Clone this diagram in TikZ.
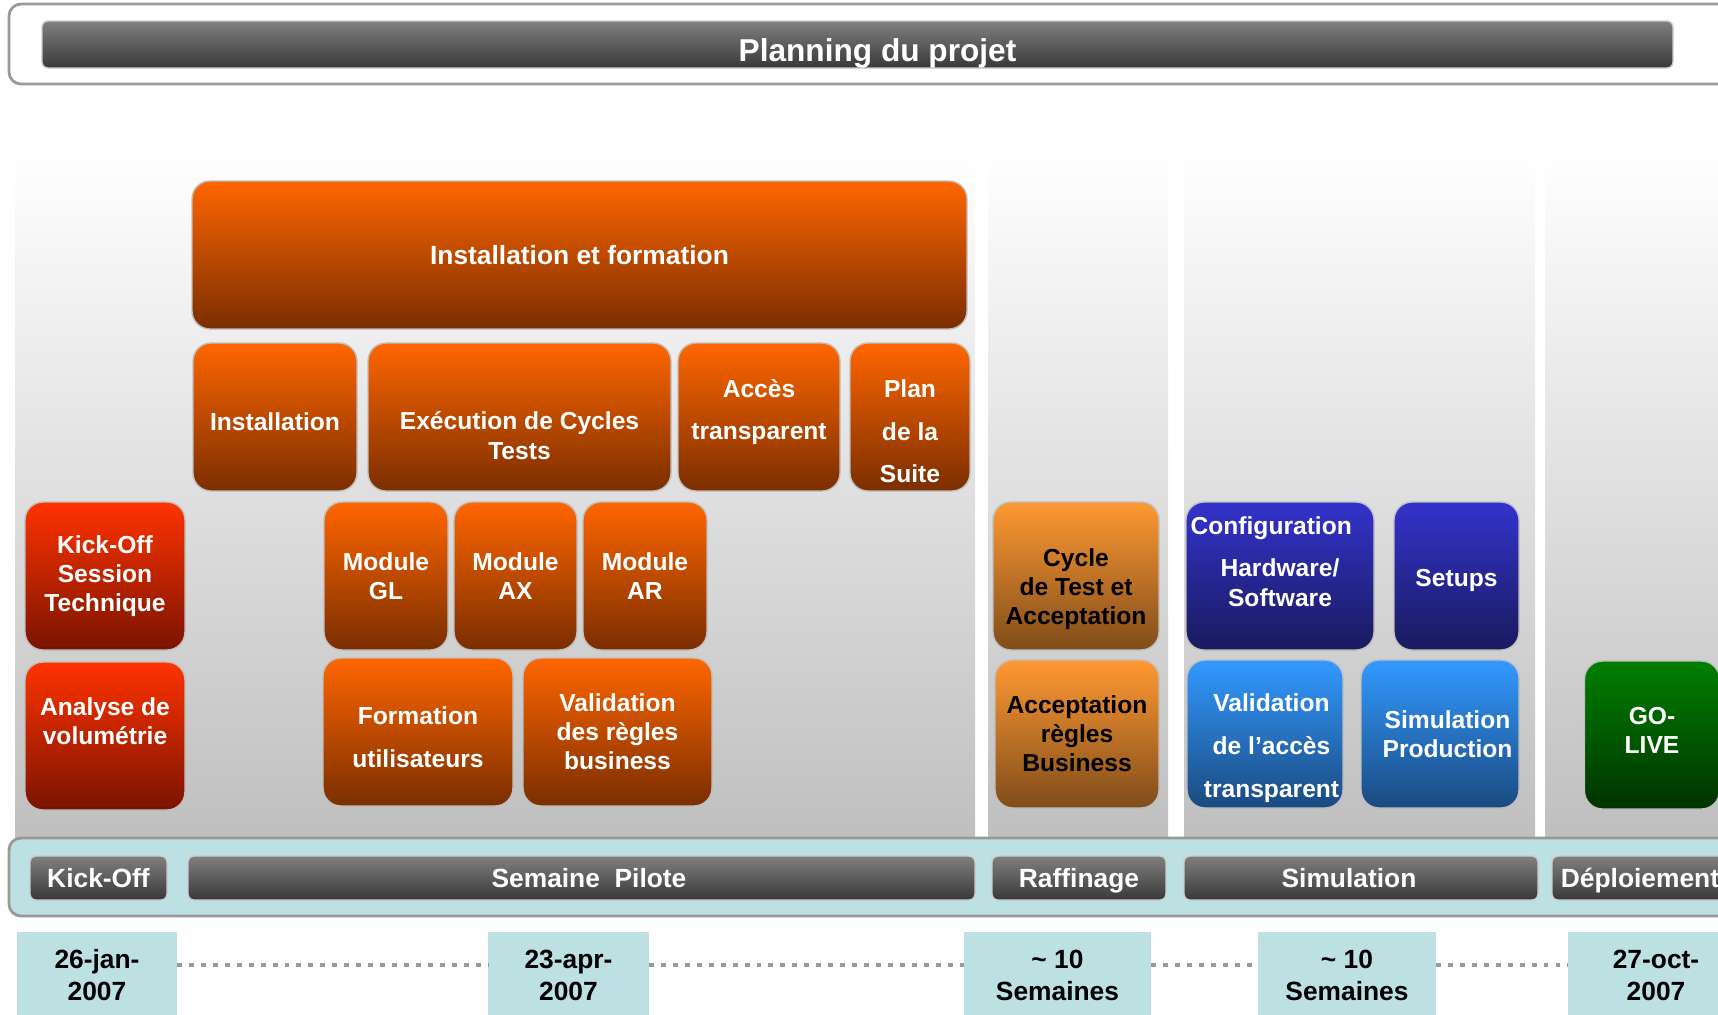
\documentclass[tikz,border=0pt]{standalone}
\usepackage{fontspec}
\setmainfont{Liberation Sans}
\definecolor{orgtop}{HTML}{FF6600}
\definecolor{orgbot}{HTML}{7A2E00}
\definecolor{redtop}{HTML}{FF3300}
\definecolor{redbot}{HTML}{7A1400}
\definecolor{ltotop}{HTML}{FF9933}
\definecolor{ltobot}{HTML}{7F4C1A}
\definecolor{blutop}{HTML}{3333CC}
\definecolor{blubot}{HTML}{1A1A5E}
\definecolor{skytop}{HTML}{3399FF}
\definecolor{skybot}{HTML}{1A4A80}
\definecolor{grntop}{HTML}{008000}
\definecolor{grnbot}{HTML}{003300}
\definecolor{bartop}{HTML}{808080}
\definecolor{barbot}{HTML}{383838}
\definecolor{bandcol}{HTML}{BDE0E3}

\begin{document}
\begin{tikzpicture}[x=0.1mm, y=-0.1mm,
    every node/.style={inner sep=0pt, outer sep=0pt, align=center, text=white,
                       font=\bfseries\fontsize{7}{8.3}\selectfont},
    blk/.style={rounded corners=1.8mm, draw=black!25, minimum height=14.8mm},
    orangebox/.style={blk, top color=orgtop, bottom color=orgbot},
    redbox/.style={blk, top color=redtop, bottom color=redbot},
    lightbox/.style={blk, top color=ltotop, bottom color=ltobot, text=black},
    bluebox/.style={blk, top color=blutop, bottom color=blubot},
    skybox/.style={blk, top color=skytop, bottom color=skybot},
    greenbox/.style={blk, top color=grntop, bottom color=grnbot},
    phase/.style={rounded corners=0.6mm, draw=black!20, top color=bartop, bottom color=barbot,
                  minimum height=4.4mm, text height=5.4pt, text depth=0pt,
                  font=\bfseries\fontsize{7.5}{9}\selectfont},
    frame/.style={draw=black!40, line width=0.8pt, rounded corners=1.2mm, minimum width=173.1mm},
    datebox/.style={fill=bandcol, minimum height=8.6mm, text=black,
                    font=\bfseries\fontsize{7.5}{9.1}\selectfont},
    dotline/.style={draw=black!40, line width=1.4pt, dash pattern=on 1.4pt off 2pt}]
    \useasboundingbox (0,0) rectangle (1718,1014);
    \clip (0,0) rectangle (1718,1014);
    % phase columns
    \shade[top color=white, bottom color=black!25] (15,150) rectangle (975,838);
    \shade[top color=white, bottom color=black!25] (988,150) rectangle (1168,838);
    \shade[top color=white, bottom color=black!25] (1184,150) rectangle (1535,838);
    \shade[top color=white, bottom color=black!25] (1545,150) rectangle (1718,838);
    % title
    \node[frame, fill=white, minimum height=8mm] (head) at (874.5,44) {};
    \node[phase, minimum width=163.1mm, minimum height=4.7mm, text height=9.8pt,
          font=\bfseries\fontsize{9}{11}\selectfont] (title) at (857.5,44.5) {\hspace*{4mm}Planning du projet};
    % semaine pilote
    \node[orangebox, minimum width=77.5mm] (instform) at (579.5,255) {\fontsize{7.5}{9}\selectfont Installation et formation};
    \node[orangebox, minimum width=16.4mm] (inst)  at (275,417)   {\rule{0pt}{7.6pt}Installation};
    \node[orangebox, minimum width=30.3mm] (exec)  at (519.5,417) {\rule{0pt}{15.7pt}Exécution de Cycles\\Tests};
    \node[orangebox, minimum width=16.2mm] (acces) at (759,417)   {Accès\\[3.9pt]transparent\rule[-4.3pt]{0pt}{0pt}};
    \node[orangebox, minimum width=12mm]   (plan)  at (910,417)   {\rule{0pt}{13.2pt}Plan\\[3.9pt]de la\\[3.9pt]Suite};
    \node[orangebox, minimum width=12.4mm] (modgl) at (386,576)   {Module\\GL};
    \node[orangebox, minimum width=12.3mm] (modax) at (515.5,576) {Module\\AX};
    \node[orangebox, minimum width=12.4mm] (modar) at (645,576)   {Module\\AR};
    \node[orangebox, minimum width=19mm]   (forma) at (418,732)   {\rule{0pt}{8.2pt}Formation\\[3.9pt]utilisateurs};
    \node[orangebox, minimum width=18.9mm] (valreg) at (617.5,732) {Validation\\des règles\\business};
    % kick-off
    \node[redbox, minimum width=16mm] (kicksess) at (105,576) {Kick-Off\\Session\\Technique};
    \node[redbox, minimum width=16mm] (volume)   at (105,736) {Analyse de\\volumétrie\\[0pt]};
    % raffinage
    \node[lightbox, minimum width=16.6mm] (cycle)  at (1076,576) {\rule{0pt}{12.6pt}Cycle\\de Test et\\Acceptation};
    \node[lightbox, minimum width=16.4mm] (accept) at (1077,734) {Acceptation\\règles\\Business};
    % simulation
    \node[bluebox, minimum width=18.8mm] (config) at (1280,576)
        {Configuration\hspace*{1.75mm}\\[3.7pt]Hardware/\hspace*{1.75mm}\\Software\hspace*{1.75mm}\\[0pt]};
    \node[bluebox, minimum width=12.5mm] (setups) at (1456.5,576) {\rule{0pt}{7.6pt}Setups};
    \node[skybox, minimum width=15.6mm]  (valacc) at (1265,734)
        {\rule{0pt}{13.2pt}\hspace*{1.3mm}Validation\\[3.9pt]\hspace*{1.3mm}de l’accès\\[3.9pt]\hspace*{1.3mm}transparent};
    \node[skybox, minimum width=15.8mm]  (simprod) at (1440,734) {\hspace*{1.5mm}Simulation\\\hspace*{1.5mm}Production};
    % deploiement
    \node[greenbox, minimum width=13.5mm] (golive) at (1652,735) {GO-\\LIVE\rule[-2.8pt]{0pt}{0pt}};
    % phases
    \node[frame, fill=bandcol, minimum height=7.8mm] (band) at (874.5,877) {};
    \node[phase, minimum width=13.7mm] (pkick) at (98.5,878)  {Kick-Off};
    \node[phase, minimum width=78.7mm] (ppilo) at (581.5,878) {\hspace*{1.5mm}Semaine\ \ Pilote};
    \node[phase, minimum width=17.4mm] (praff) at (1079,878)  {Raffinage};
    \node[phase, minimum width=35.4mm] (psimu) at (1361,878)  {Simulation\hspace*{2.4mm}};
    \node[phase, minimum width=17.6mm] (pdepl) at (1640,878)  {Déploiement};
    % dates
    \node[datebox, minimum width=16mm]   (d1) at (97,975)     {26-jan-\\2007};
    \node[datebox, minimum width=16.1mm] (d2) at (568.5,975)  {23-apr-\\2007};
    \node[datebox, minimum width=18.7mm] (d3) at (1057.5,975) {\textasciitilde{} 10\\Semaines};
    \node[datebox, minimum width=17.8mm] (d4) at (1347,975)   {\textasciitilde{} 10\\Semaines};
    \node[datebox, minimum width=17.6mm] (d5) at (1656,975)   {27-oct-\\2007};
    \draw[dotline] ([yshift=1mm]d1.east) -- ([yshift=1mm]d2.west);
    \draw[dotline] ([yshift=1mm]d2.east) -- ([yshift=1mm]d3.west);
    \draw[dotline] ([yshift=1mm]d3.east) -- ([yshift=1mm]d4.west);
    \draw[dotline] ([yshift=1mm]d4.east) -- ([yshift=1mm]d5.west);
\end{tikzpicture}
\end{document}
